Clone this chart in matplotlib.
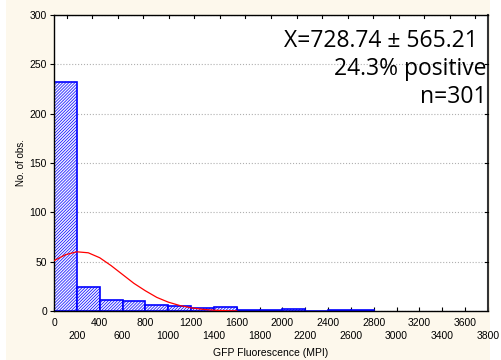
import matplotlib.pyplot as plt
from matplotlib.patches import Rectangle

# histogram of GFP fluorescence, 200 MPI bins
bin_left = [0, 200, 400, 600, 800, 1000, 1200, 1400, 1600, 1800, 2000, 2200, 2400, 2600]
counts = [232, 24, 11, 10, 6, 5, 3, 4, 1, 1, 2, 0, 1, 1]
bin_width = 200

# expected normal counts per bin
curve_x = [0, 100, 200, 300, 400, 500, 600, 700, 800, 900, 1000, 1100, 1200, 1300, 1400, 1500, 1600]
curve_y = [51, 57, 60, 59, 54, 46, 37, 28, 20.5, 13.8, 9, 5.6, 3.2, 1.7, 0.8, 0.35, 0.1]

stats_lines = ['X=728.74 \u00b1 565.21', '24.3% positive', 'n=301']

x_ticks = list(range(0, 3801, 200))
y_ticks = [0, 50, 100, 150, 200, 250, 300]

plt.rcParams['hatch.linewidth'] = 0.5
plt.rcParams['font.family'] = 'Liberation Sans'

fig = plt.figure(figsize=(5.01, 3.6), dpi=100)
fig.patch.set_facecolor('white')
fig.patches.append(Rectangle((6 / 501, 0), 484 / 501, 1, transform=fig.transFigure,
                             facecolor='#fdf8ec', edgecolor='none', zorder=-1))

ax = fig.add_axes([54 / 501, 49 / 360, 434 / 501, 296 / 360])
ax.set_zorder(1)
ax.set_facecolor('white')

ax.bar(bin_left, counts, width=bin_width, align='edge', facecolor='#f2f2ff',
       edgecolor='#0000ff', hatch='/' * 11, linewidth=1.2, zorder=2)
ax.plot(curve_x, curve_y, color='#ff0000', linewidth=0.9, zorder=3)

ax.set_xlim(0, 3800)
ax.set_ylim(0, 300)
ax.set_yticks(y_ticks)
ax.set_yticklabels([str(v) for v in y_ticks], fontsize=7.5)
ax.set_xticks(x_ticks)
# alternate tick labels on two rows
ax.set_xticklabels([str(v) if v % 400 == 0 else '\n' + str(v) for v in x_ticks],
                   fontsize=7.5, linespacing=1.35)
ax.tick_params(axis='x', direction='in', length=3, width=0.8, pad=5, top=False)
ax.tick_params(axis='y', direction='out', length=3, width=0.8, pad=2)

# inward ticks on the right spine
for v in y_ticks[1:-1]:
    ax.plot([3800, 3770], [v, v], color='black', linewidth=0.8, clip_on=False, zorder=4)

# top spine ticks at the centres of 17 equal divisions
for k in range(17):
    xt = 3800 / 17 * (k + 0.5)
    ax.plot([xt, xt], [300, 296.5], color='black', linewidth=0.8, clip_on=False, zorder=4)

ax.yaxis.grid(True, linestyle=':', color='#b0b0b0', linewidth=0.8)
ax.set_axisbelow(True)

for side in ['left', 'bottom', 'top']:
    ax.spines[side].set_linewidth(1.0)
ax.spines['right'].set_linewidth(1.5)
ax.spines['right'].set_color('#333333')

ax.set_xlabel('GFP Fluorescence (MPI)', fontsize=7.5, labelpad=5.5)
ax.set_ylabel('No. of obs.', fontsize=7, labelpad=3)

baselines = [47, 75, 103]
right_edges = [478, 486, 486]
for txt, yb, xr in zip(stats_lines, baselines, right_edges):
    fig.text(xr / 501, 1 - yb / 360, txt, ha='right', va='baseline',
             fontsize=16.5, family='Open Sans', zorder=5)

fig.savefig('out.png', dpi=100, facecolor=fig.get_facecolor())
